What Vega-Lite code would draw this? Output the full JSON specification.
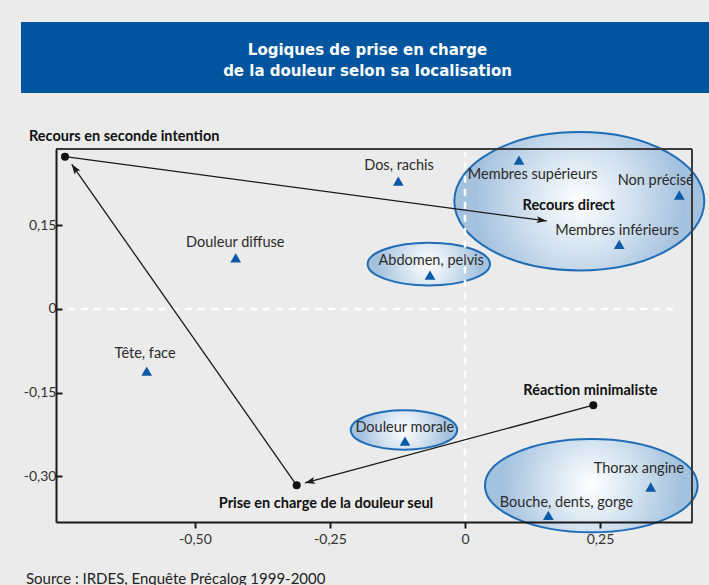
{
  "$schema": "https://vega.github.io/schema/vega-lite/v6.json",
  "background": "#ebebeb",
  "padding": {"left": 20, "top": 7, "right": 0, "bottom": 0},
  "spacing": 14,
  "config": {
    "view": {"stroke": null},
    "font": "Lato, sans-serif"
  },
  "datasets": {
    "banner": [{"t": "Logiques de prise en charge\nde la douleur selon sa localisation"}],
    "pts": [
      {"label": "Douleur diffuse", "x": -0.4246, "y": 0.0917},
      {"label": "Tête, face", "x": -0.5894, "y": -0.1117},
      {"label": "Dos, rachis", "x": -0.1235, "y": 0.2294},
      {"label": "Membres supérieurs", "x": 0.1, "y": 0.2671},
      {"label": "Non précisé", "x": 0.3969, "y": 0.2043},
      {"label": "Membres inférieurs", "x": 0.2857, "y": 0.1158},
      {"label": "Abdomen, pelvis", "x": -0.0648, "y": 0.0607},
      {"label": "Douleur morale", "x": -0.1111, "y": -0.2373},
      {"label": "Thorax angine", "x": 0.3439, "y": -0.3194},
      {"label": "Bouche, dents, gorge", "x": 0.1543, "y": -0.3702}
    ],
    "poles": [
      {"label": "Recours en seconde intention", "x": -0.7407, "y": 0.2731},
      {"label": "Prise en charge de la douleur seul", "x": -0.3117, "y": -0.3163},
      {"label": "Réaction minimaliste", "x": 0.2376, "y": -0.1727}
    ],
    "labels": [
      {"text": "Douleur diffuse", "lx": -0.4254, "ly": 0.111, "bold": false},
      {"text": "Tête, face", "lx": -0.5926, "ly": -0.0878, "bold": false},
      {"text": "Dos, rachis", "lx": -0.1222, "ly": 0.2487, "bold": false},
      {"text": "Membres supérieurs", "lx": 0.1254, "ly": 0.2325, "bold": false},
      {"text": "Non précisé", "lx": 0.3531, "ly": 0.2217, "bold": false},
      {"text": "Membres inférieurs", "lx": 0.2815, "ly": 0.1325, "bold": false},
      {"text": "Abdomen, pelvis", "lx": -0.0626, "ly": 0.0781, "bold": false},
      {"text": "Douleur morale", "lx": -0.1115, "ly": -0.2206, "bold": false},
      {"text": "Thorax angine", "lx": 0.3219, "ly": -0.2943, "bold": false},
      {"text": "Bouche, dents, gorge", "lx": 0.188, "ly": -0.3553, "bold": false},
      {"text": "Recours direct", "lx": 0.1922, "ly": 0.1768, "bold": true},
      {"text": "Réaction minimaliste", "lx": 0.2324, "ly": -0.1535, "bold": true},
      {"text": "Prise en charge de la douleur seul", "lx": -0.2574, "ly": -0.3571, "bold": true},
      {"text": "Recours en seconde intention", "lx": -0.6311, "ly": 0.3013, "bold": true}
    ],
    "links": [
      {"id": 1, "x": -0.7407, "y": 0.2731, "x2": 0.1513, "y2": 0.1578},
      {"id": 2, "x": -0.3117, "y": -0.3163, "x2": -0.7283, "y2": 0.2594},
      {"id": 3, "x": 0.2376, "y": -0.1727, "x2": -0.2963, "y2": -0.3122}
    ],
    "zero": [
      {"x": -0.735, "x2": 0.389, "y": 0, "y2": 0},
      {"x": 0, "x2": 0, "y": -0.38, "y2": 0.281}
    ],
    "groups": [
      {"g": "direct", "x": 0.2117, "y": 0.1932},
      {"g": "abdomen", "x": -0.067, "y": 0.0804},
      {"g": "morale", "x": -0.113, "y": -0.2171},
      {"g": "thorax", "x": 0.2339, "y": -0.3169}
    ],
    "frame": [{"xmax": 0.4204, "ymax": 0.2869}]
  },
  "vconcat": [
    {
      "width": 619,
      "height": 1,
      "view": {"fill": "#00559e", "stroke": "#00559e", "strokeWidth": 70, "strokeJoin": "miter"},
      "data": {"name": "banner"},
      "mark": {"type": "text", "color": "white", "font": "DejaVu Sans", "fontWeight": "bold", "fontSize": 15, "lineBreak": "\n", "lineHeight": 21, "baseline": "middle", "align": "center", "dx": 2, "dy": -8},
      "encoding": {"text": {"field": "t"}}
    },
    {
      "width": 636,
      "height": 373,
      "title": {"text": "Source : IRDES, Enquête Précalog 1999-2000", "orient": "bottom", "anchor": "start", "frame": "bounds", "font": "Lato", "fontSize": 15, "fontWeight": "normal", "color": "#222", "offset": 26, "dx": 6},
      "encoding": {
        "x": {"type": "quantitative", "scale": {"domain": [-0.7574, 0.4204], "nice": false, "zero": false},
          "axis": {"title": null, "grid": false, "values": [-0.5, -0.25, 0, 0.25], "zindex": 1, "domainColor": "#1a1a1a", "domainWidth": 2, "tickColor": "#1a1a1a", "tickWidth": 2, "tickSize": 6, "labelPadding": 4, "labelFontSize": 14, "labelColor": "#333", "labelExpr": "datum.value == 0 ? '0' : (datum.value < 0 ? '-' : '') + replace(format(abs(datum.value), '.2f'), '.', ',')"}},
        "y": {"type": "quantitative", "scale": {"domain": [-0.3822, 0.2869], "nice": false, "zero": false},
          "axis": {"title": null, "grid": false, "values": [-0.3, -0.15, 0, 0.15], "zindex": 1, "domainColor": "#1a1a1a", "domainWidth": 2, "tickColor": "#1a1a1a", "tickWidth": 2, "tickSize": -6, "labelPadding": 6, "labelFontSize": 14, "labelColor": "#333", "minExtent": 36, "maxExtent": 36, "labelExpr": "datum.value == 0 ? '0' : (datum.value < 0 ? '-' : '') + replace(format(abs(datum.value), '.2f'), '.', ',')"}}
      },
      "layer": [
        {
          "data": {"name": "groups"},
          "mark": {"type": "point", "filled": true, "size": 4, "opacity": 1, "stroke": "#1f6db6", "strokeWidth": 2, "strokeOpacity": 1,
            "fill": {"gradient": "radial", "x1": 0.5, "y1": 0.5, "x2": 0.5, "y2": 0.5, "r1": 0, "r2": 0.42,
              "stops": [{"offset": 0, "color": "#ffffff"}, {"offset": 0.5, "color": "#d3e2f0"}, {"offset": 1, "color": "#a4c1dd"}]}},
          "encoding": {
            "x": {"field": "x", "type": "quantitative"},
            "y": {"field": "y", "type": "quantitative"},
            "shape": {"field": "g", "type": "nominal", "legend": null, "scale": {"domain": ["direct", "abdomen", "morale", "thorax"], "range": [
              "M-125,0A125,69.2,0,1,1,125,0A125,69.2,0,1,1,-125,0Z",
              "M-61.2,0A61.2,21.3,0,1,1,61.2,0A61.2,21.3,0,1,1,-61.2,0Z",
              "M-53.2,0A53.2,19.7,0,1,1,53.2,0A53.2,19.7,0,1,1,-53.2,0Z",
              "M-106.3,0A106.3,46.7,0,1,1,106.3,0A106.3,46.7,0,1,1,-106.3,0Z"]}}
          }
        },
        {
          "data": {"name": "zero"},
          "mark": {"type": "rule", "color": "white", "strokeWidth": 2.5, "strokeDash": [7, 6]},
          "encoding": {
            "x": {"field": "x", "type": "quantitative"},
            "x2": {"field": "x2"},
            "y": {"field": "y", "type": "quantitative"},
            "y2": {"field": "y2"}
          }
        },
        {
          "data": {"name": "links"},
          "mark": {"type": "rule", "color": "#1a1a1a", "strokeWidth": 1.3},
          "encoding": {
            "x": {"field": "x", "type": "quantitative"},
            "x2": {"field": "x2"},
            "y": {"field": "y", "type": "quantitative"},
            "y2": {"field": "y2"}
          }
        },
        {
          "data": {"name": "links"},
          "transform": [{"filter": "datum.id == 1"}],
          "mark": {"type": "point", "shape": "M0,0L-3.5,10L0,8L3.5,10Z", "size": 4, "filled": true, "color": "#1a1a1a", "opacity": 1, "angle": 97.6},
          "encoding": {"x": {"field": "x2", "type": "quantitative"}, "y": {"field": "y2", "type": "quantitative"}}
        },
        {
          "data": {"name": "links"},
          "transform": [{"filter": "datum.id == 2"}],
          "mark": {"type": "point", "shape": "M0,0L-3.5,10L0,8L3.5,10Z", "size": 4, "filled": true, "color": "#1a1a1a", "opacity": 1, "angle": 325},
          "encoding": {"x": {"field": "x2", "type": "quantitative"}, "y": {"field": "y2", "type": "quantitative"}}
        },
        {
          "data": {"name": "links"},
          "transform": [{"filter": "datum.id == 3"}],
          "mark": {"type": "point", "shape": "M0,0L-3.5,10L0,8L3.5,10Z", "size": 4, "filled": true, "color": "#1a1a1a", "opacity": 1, "angle": 254.9},
          "encoding": {"x": {"field": "x2", "type": "quantitative"}, "y": {"field": "y2", "type": "quantitative"}}
        },
        {
          "data": {"name": "poles"},
          "mark": {"type": "point", "shape": "circle", "size": 64, "filled": true, "color": "#111", "opacity": 1},
          "encoding": {"x": {"field": "x", "type": "quantitative"}, "y": {"field": "y", "type": "quantitative"}}
        },
        {
          "data": {"name": "pts"},
          "mark": {"type": "point", "shape": "triangle-up", "size": 115, "filled": true, "color": "#0b5aa5", "opacity": 1},
          "encoding": {"x": {"field": "x", "type": "quantitative"}, "y": {"field": "y", "type": "quantitative"}}
        },
        {
          "data": {"name": "labels"},
          "transform": [{"filter": "!datum.bold"}],
          "mark": {"type": "text", "fontSize": 14.5, "color": "#2a2a2a", "align": "center", "baseline": "alphabetic"},
          "encoding": {"x": {"field": "lx", "type": "quantitative"}, "y": {"field": "ly", "type": "quantitative"}, "text": {"field": "text"}}
        },
        {
          "data": {"name": "labels"},
          "transform": [{"filter": "datum.bold"}],
          "mark": {"type": "text", "fontSize": 14.5, "fontWeight": "bold", "color": "#111", "align": "center", "baseline": "alphabetic"},
          "encoding": {"x": {"field": "lx", "type": "quantitative"}, "y": {"field": "ly", "type": "quantitative"}, "text": {"field": "text"}}
        },
        {
          "data": {"name": "frame"},
          "mark": {"type": "rule", "color": "#3a3a3a", "strokeWidth": 2},
          "encoding": {"y": {"field": "ymax", "type": "quantitative"}}
        },
        {
          "data": {"name": "frame"},
          "mark": {"type": "rule", "color": "#3a3a3a", "strokeWidth": 2},
          "encoding": {"x": {"field": "xmax", "type": "quantitative"}}
        }
      ]
    }
  ]
}
